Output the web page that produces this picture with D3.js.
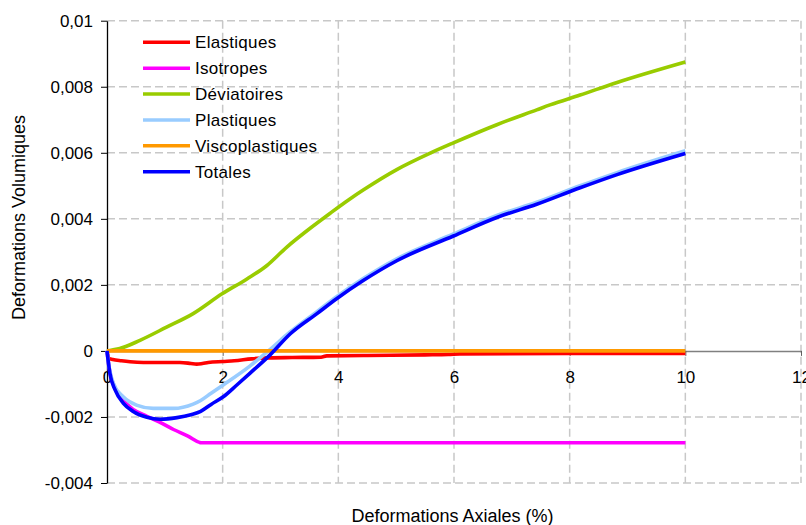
<!DOCTYPE html>
<html>
<head>
<meta charset="utf-8">
<script src="https://cdn.jsdelivr.net/npm/d3@7"></script>
<style>
  body { margin: 0; background: #fff; }
  svg { display: block; font-family: "Liberation Sans", Arial, sans-serif; }
</style>
</head>
<body>
<svg id="chart" width="806" height="525"></svg>
<script>
// ---- Data ----
const xTicks = [0, 2, 4, 6, 8, 10, 12];
const xTickLabels = ["0", "2", "4", "6", "8", "10", "12"];
const yTicks = [-0.004, -0.002, 0, 0.002, 0.004, 0.006, 0.008, 0.01];
const yTickLabels = ["-0,004", "-0,002", "0", "0,002", "0,004", "0,006", "0,008", "0,01"];

const seriesNames = ["Elastiques", "Isotropes", "Déviatoires", "Plastiques", "Viscoplastiques", "Totales"];
const seriesColors = ["#ff0000", "#ff00ff", "#99cc00", "#99ccff", "#ff9900", "#0000ff"];

const elastX = [0, 0.03, 0.1, 0.25, 0.4, 0.63, 1.0, 1.26, 1.45, 1.55, 1.65, 1.75, 2.0, 2.2, 2.5, 2.8, 3.2, 3.7, 3.8, 4.5, 5.5, 5.9, 6.1, 8, 10];
const elastY = [0, -0.00022, -0.00026, -0.00030, -0.00033, -0.00035, -0.00035, -0.00035, -0.00038, -0.00040, -0.00038, -0.00035, -0.00032, -0.00030, -0.00024, -0.00021, -0.00020, -0.00019, -0.00015, -0.00014, -0.00012, -0.00011, -0.00009, -0.00008, -0.00008];

const isoX = [0, 0.02, 0.05, 0.14, 0.28, 0.46, 0.69, 0.9, 1.15, 1.4, 1.6, 1.62, 10];
const isoY = [0, -0.0003, -0.00065, -0.00112, -0.00150, -0.00178, -0.00198, -0.00215, -0.00238, -0.00258, -0.00277, -0.00278, -0.00278];

const devX = [0, 0.22, 0.57, 1.03, 1.49, 1.99, 2.42, 2.76, 3.10, 3.57, 3.86, 4.20, 4.43, 5.01, 5.59, 5.99, 6.74, 7.43, 7.66, 8.18, 8.82, 10];
const devY = [0, 0.00007, 0.00032, 0.00072, 0.00113, 0.00173, 0.00218, 0.00258, 0.00313, 0.00379, 0.00417, 0.00460, 0.00487, 0.00549, 0.00599, 0.00630, 0.00685, 0.00730, 0.00745, 0.00775, 0.00813, 0.00875];

const plastX = [0, 0.02, 0.11, 0.28, 0.51, 0.80, 1.15, 1.49, 1.62, 1.8, 2.01, 2.47, 2.79, 3.17, 3.63, 3.97, 4.43, 5.01, 5.99, 6.74, 7.43, 8.18, 8.82, 10];
const plastY = [0, -0.0003, -0.00098, -0.00139, -0.00164, -0.00174, -0.00174, -0.00161, -0.00150, -0.00128, -0.00103, -0.00046, 0, 0.00058, 0.00119, 0.00164, 0.00219, 0.00279, 0.00354, 0.0041, 0.0045, 0.0050, 0.0054, 0.00606];

const viscoX = [0, 10];
const viscoY = [0, 0];

const totX = [0, 0.02, 0.05, 0.14, 0.28, 0.46, 0.69, 0.92, 1.21, 1.45, 1.62, 1.8, 2.01, 2.24, 2.47, 2.82, 3.17, 3.63, 3.97, 4.43, 5.01, 5.99, 6.74, 7.43, 8.18, 8.82, 10];
const totY = [0, -0.0003, -0.00068, -0.00118, -0.00158, -0.00184, -0.00201, -0.00207, -0.00202, -0.00193, -0.00183, -0.00162, -0.00139, -0.00104, -0.00068, -0.00012, 0.00052, 0.00113, 0.00158, 0.00213, 0.00273, 0.00348, 0.00404, 0.00444, 0.00494, 0.00534, 0.00598];

const seriesX = [elastX, isoX, devX, plastX, viscoX, totX];
const seriesY = [elastY, isoY, devY, plastY, viscoY, totY];

// ---- Layout ----
const svg = d3.select("#chart");
const pLeft = 107, pRight = 801, pTop = 20.7, pBottom = 483;
const x = d3.scaleLinear().domain([0, 12]).range([pLeft, pRight]);
const y = d3.scaleLinear().domain([-0.004, 0.01]).range([pBottom, pTop]);

// Grid
const grid = svg.append("g").attr("stroke", "#c8c8c8").attr("stroke-width", 1.5).attr("stroke-dasharray", "8,4");
grid.selectAll("line.h").data(yTicks.filter(d => d !== 0)).join("line")
  .attr("x1", pLeft).attr("x2", pRight).attr("y1", d => y(d)).attr("y2", d => y(d));
grid.selectAll("line.v").data(xTicks.filter(d => d !== 0)).join("line")
  .attr("x1", d => x(d)).attr("x2", d => x(d)).attr("y1", pTop).attr("y2", pBottom);

// X axis at y = 0
const xAxis = d3.axisBottom(x).tickValues(xTicks)
  .tickFormat((d, i) => xTickLabels[i]).tickSize(5).tickSizeOuter(0).tickPadding(15.5);
const gx = svg.append("g").attr("transform", `translate(0,${y(0)})`).call(xAxis);
gx.select(".domain").attr("stroke", "#808080").attr("stroke-width", 1.5);
gx.selectAll(".tick line").attr("stroke", "#606060");
gx.selectAll("text").attr("font-size", 17).attr("fill", "#000").attr("font-family", "Liberation Sans, Arial, sans-serif");

// Y axis
const yAxis = d3.axisLeft(y).tickValues(yTicks)
  .tickFormat((d, i) => yTickLabels[i]).tickSize(6).tickSizeOuter(0).tickPadding(8);
const gy = svg.append("g").attr("transform", `translate(${pLeft},0)`).call(yAxis);
gy.select(".domain").attr("stroke", "#000").attr("stroke-width", 1.3);
gy.selectAll(".tick line").attr("stroke", "#000");
gy.selectAll("text").attr("font-size", 17).attr("fill", "#000").attr("font-family", "Liberation Sans, Arial, sans-serif");

// Series lines
const line = d3.line().x(d => x(d[0])).y(d => y(d[1])).curve(d3.curveMonotoneX);
const lines = svg.append("g").attr("fill", "none").attr("stroke-width", 3.6).attr("stroke-linejoin", "round").attr("stroke-linecap", "butt");
seriesNames.forEach((name, i) => {
  const pts = seriesX[i].map((xv, j) => [xv, seriesY[i][j]]);
  lines.append("path").datum(pts).attr("d", line).attr("stroke", seriesColors[i]);
});

// Legend
const legend = svg.append("g");
const rowY = d3.scaleLinear().domain([0, 5]).range([42.3, 171.7]);
seriesNames.forEach((name, i) => {
  legend.append("line").attr("x1", 143).attr("x2", 190).attr("y1", rowY(i)).attr("y2", rowY(i))
    .attr("stroke", seriesColors[i]).attr("stroke-width", 3.6);
  legend.append("text").attr("x", 195).attr("y", rowY(i)).attr("dy", "0.36em")
    .attr("font-size", 17).attr("letter-spacing", 0.3).attr("fill", "#000").text(name);
});

// Axis titles
svg.append("text").attr("x", 452.5).attr("y", 522).attr("text-anchor", "middle")
  .attr("font-size", 18).attr("fill", "#000").text("Deformations Axiales (%)");
svg.append("text").attr("transform", "translate(25,217.5) rotate(-90)").attr("text-anchor", "middle")
  .attr("font-size", 18).attr("fill", "#000").text("Deformations Volumiques");
</script>
</body>
</html>
